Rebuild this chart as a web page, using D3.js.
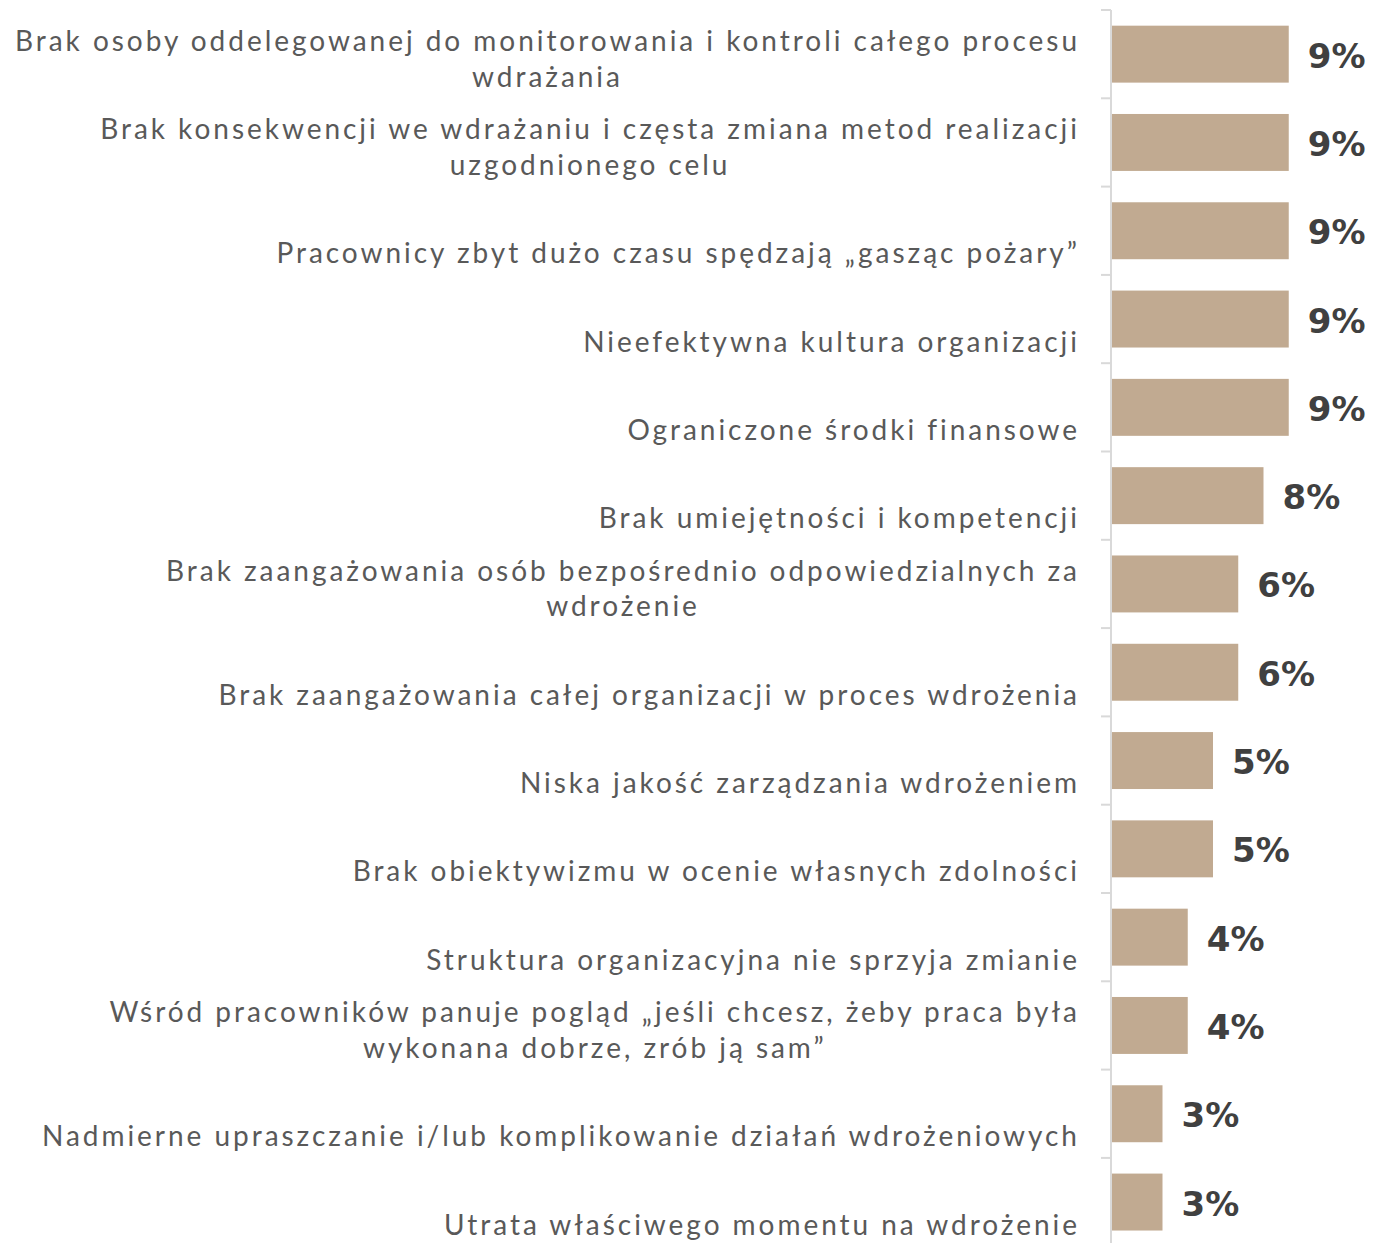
<!DOCTYPE html>
<html>
<head>
<meta charset="utf-8">
<script src="https://cdn.jsdelivr.net/npm/d3@7"></script>
<style>
  html, body { margin: 0; padding: 0; background: #ffffff; }
  svg { display: block; }
</style>
</head>
<body>
<svg id="chart" width="1376" height="1243"></svg>
<script>
// Barriers to implementation — share of answers
const categories = [
  ["Brak osoby oddelegowanej do monitorowania i kontroli całego procesu", "wdrażania"],
  ["Brak konsekwencji we wdrażaniu i częsta zmiana metod realizacji", "uzgodnionego celu"],
  ["Pracownicy zbyt dużo czasu spędzają „gasząc pożary”"],
  ["Nieefektywna kultura organizacji"],
  ["Ograniczone środki finansowe"],
  ["Brak umiejętności i kompetencji"],
  ["Brak zaangażowania osób bezpośrednio odpowiedzialnych za", "wdrożenie"],
  ["Brak zaangażowania całej organizacji w proces wdrożenia"],
  ["Niska jakość zarządzania wdrożeniem"],
  ["Brak obiektywizmu w ocenie własnych zdolności"],
  ["Struktura organizacyjna nie sprzyja zmianie"],
  ["Wśród pracowników panuje pogląd „jeśli chcesz, żeby praca była", "wykonana dobrze, zrób ją sam”"],
  ["Nadmierne upraszczanie i/lub komplikowanie działań wdrożeniowych"],
  ["Utrata właściwego momentu na wdrożenie"]
];
// percent of answers
const values = [8.75, 8.75, 8.75, 8.75, 8.75, 7.5, 6.25, 6.25, 5, 5, 3.75, 3.75, 2.5, 2.5];

const svg = d3.select("#chart");
const axisX = 1111;
const labelRight = 1077;
const refLineWidth = 1062;

const ids = d3.range(categories.length);
const y = d3.scaleBand().domain(ids).range([10, 10 + 14 * 88.3])
  .paddingInner(0.355).paddingOuter(0.1775);
const x = d3.scaleLinear().domain([0, 10]).range([axisX + 1, axisX + 1 + 202]);
const fmt = v => d3.format(".0f")(v) + "%";

// bars
svg.append("g").selectAll("rect").data(ids).join("rect")
  .attr("x", x(0))
  .attr("y", i => y(i))
  .attr("width", i => x(values[i]) - x(0))
  .attr("height", y.bandwidth())
  .attr("fill", "#c1aa91");

// axis line with ticks at category boundaries
const step = y.step();
const bandTop = y(0) - (y.step() - y.bandwidth()) / 2;
const ax = svg.append("g");
ax.append("line")
  .attr("x1", axisX).attr("x2", axisX)
  .attr("y1", bandTop).attr("y2", 1243)
  .attr("stroke", "#d9d9d9").attr("stroke-width", 2);
ax.selectAll("line.tick").data(d3.range(categories.length + 1)).join("line")
  .attr("class", "tick")
  .attr("x1", axisX - 10).attr("x2", axisX)
  .attr("y1", k => bandTop + k * step).attr("y2", k => bandTop + k * step)
  .attr("stroke", "#d9d9d9").attr("stroke-width", 2);

// value labels
svg.append("g").selectAll("text").data(ids).join("text")
  .attr("x", i => x(values[i]) + 19)
  .attr("y", i => y(i) + y.bandwidth() / 2 + 13.5)
  .attr("font-family", "'DejaVu Sans', sans-serif")
  .attr("font-weight", "bold")
  .attr("font-size", 34)
  .attr("fill", "#404040")
  .text(i => fmt(values[i]));

// category labels: block right-aligned, lines centred inside the block
const fontSize = 28;
const lineH = 35.5;
const lblG = svg.append("g")
  .attr("font-family", "Lato, 'Open Sans', sans-serif")
  .attr("font-size", fontSize)
  .attr("fill", "#595959");

// letter spacing that stretches the longest line to its width
const probe = lblG.append("text").text(categories[0][0]);
const natural = probe.node().getComputedTextLength();
const ls = (refLineWidth - natural) / (categories[0][0].length - 1);
probe.remove();

ids.forEach(i => {
  const lines = categories[i];
  const cy = y(i) + y.bandwidth() / 2;
  const lastBase = cy + 32.5;
  const texts = lines.map((s, k) => lblG.append("text")
    .attr("letter-spacing", ls)
    .attr("y", lastBase - (lines.length - 1 - k) * lineH)
    .text(s));
  const widths = texts.map(t => t.node().getComputedTextLength() - ls);
  const blockW = d3.max(widths);
  const center = labelRight - blockW / 2;
  texts.forEach((t, k) => t.attr("x", center - widths[k] / 2));
});
</script>
</body>
</html>
